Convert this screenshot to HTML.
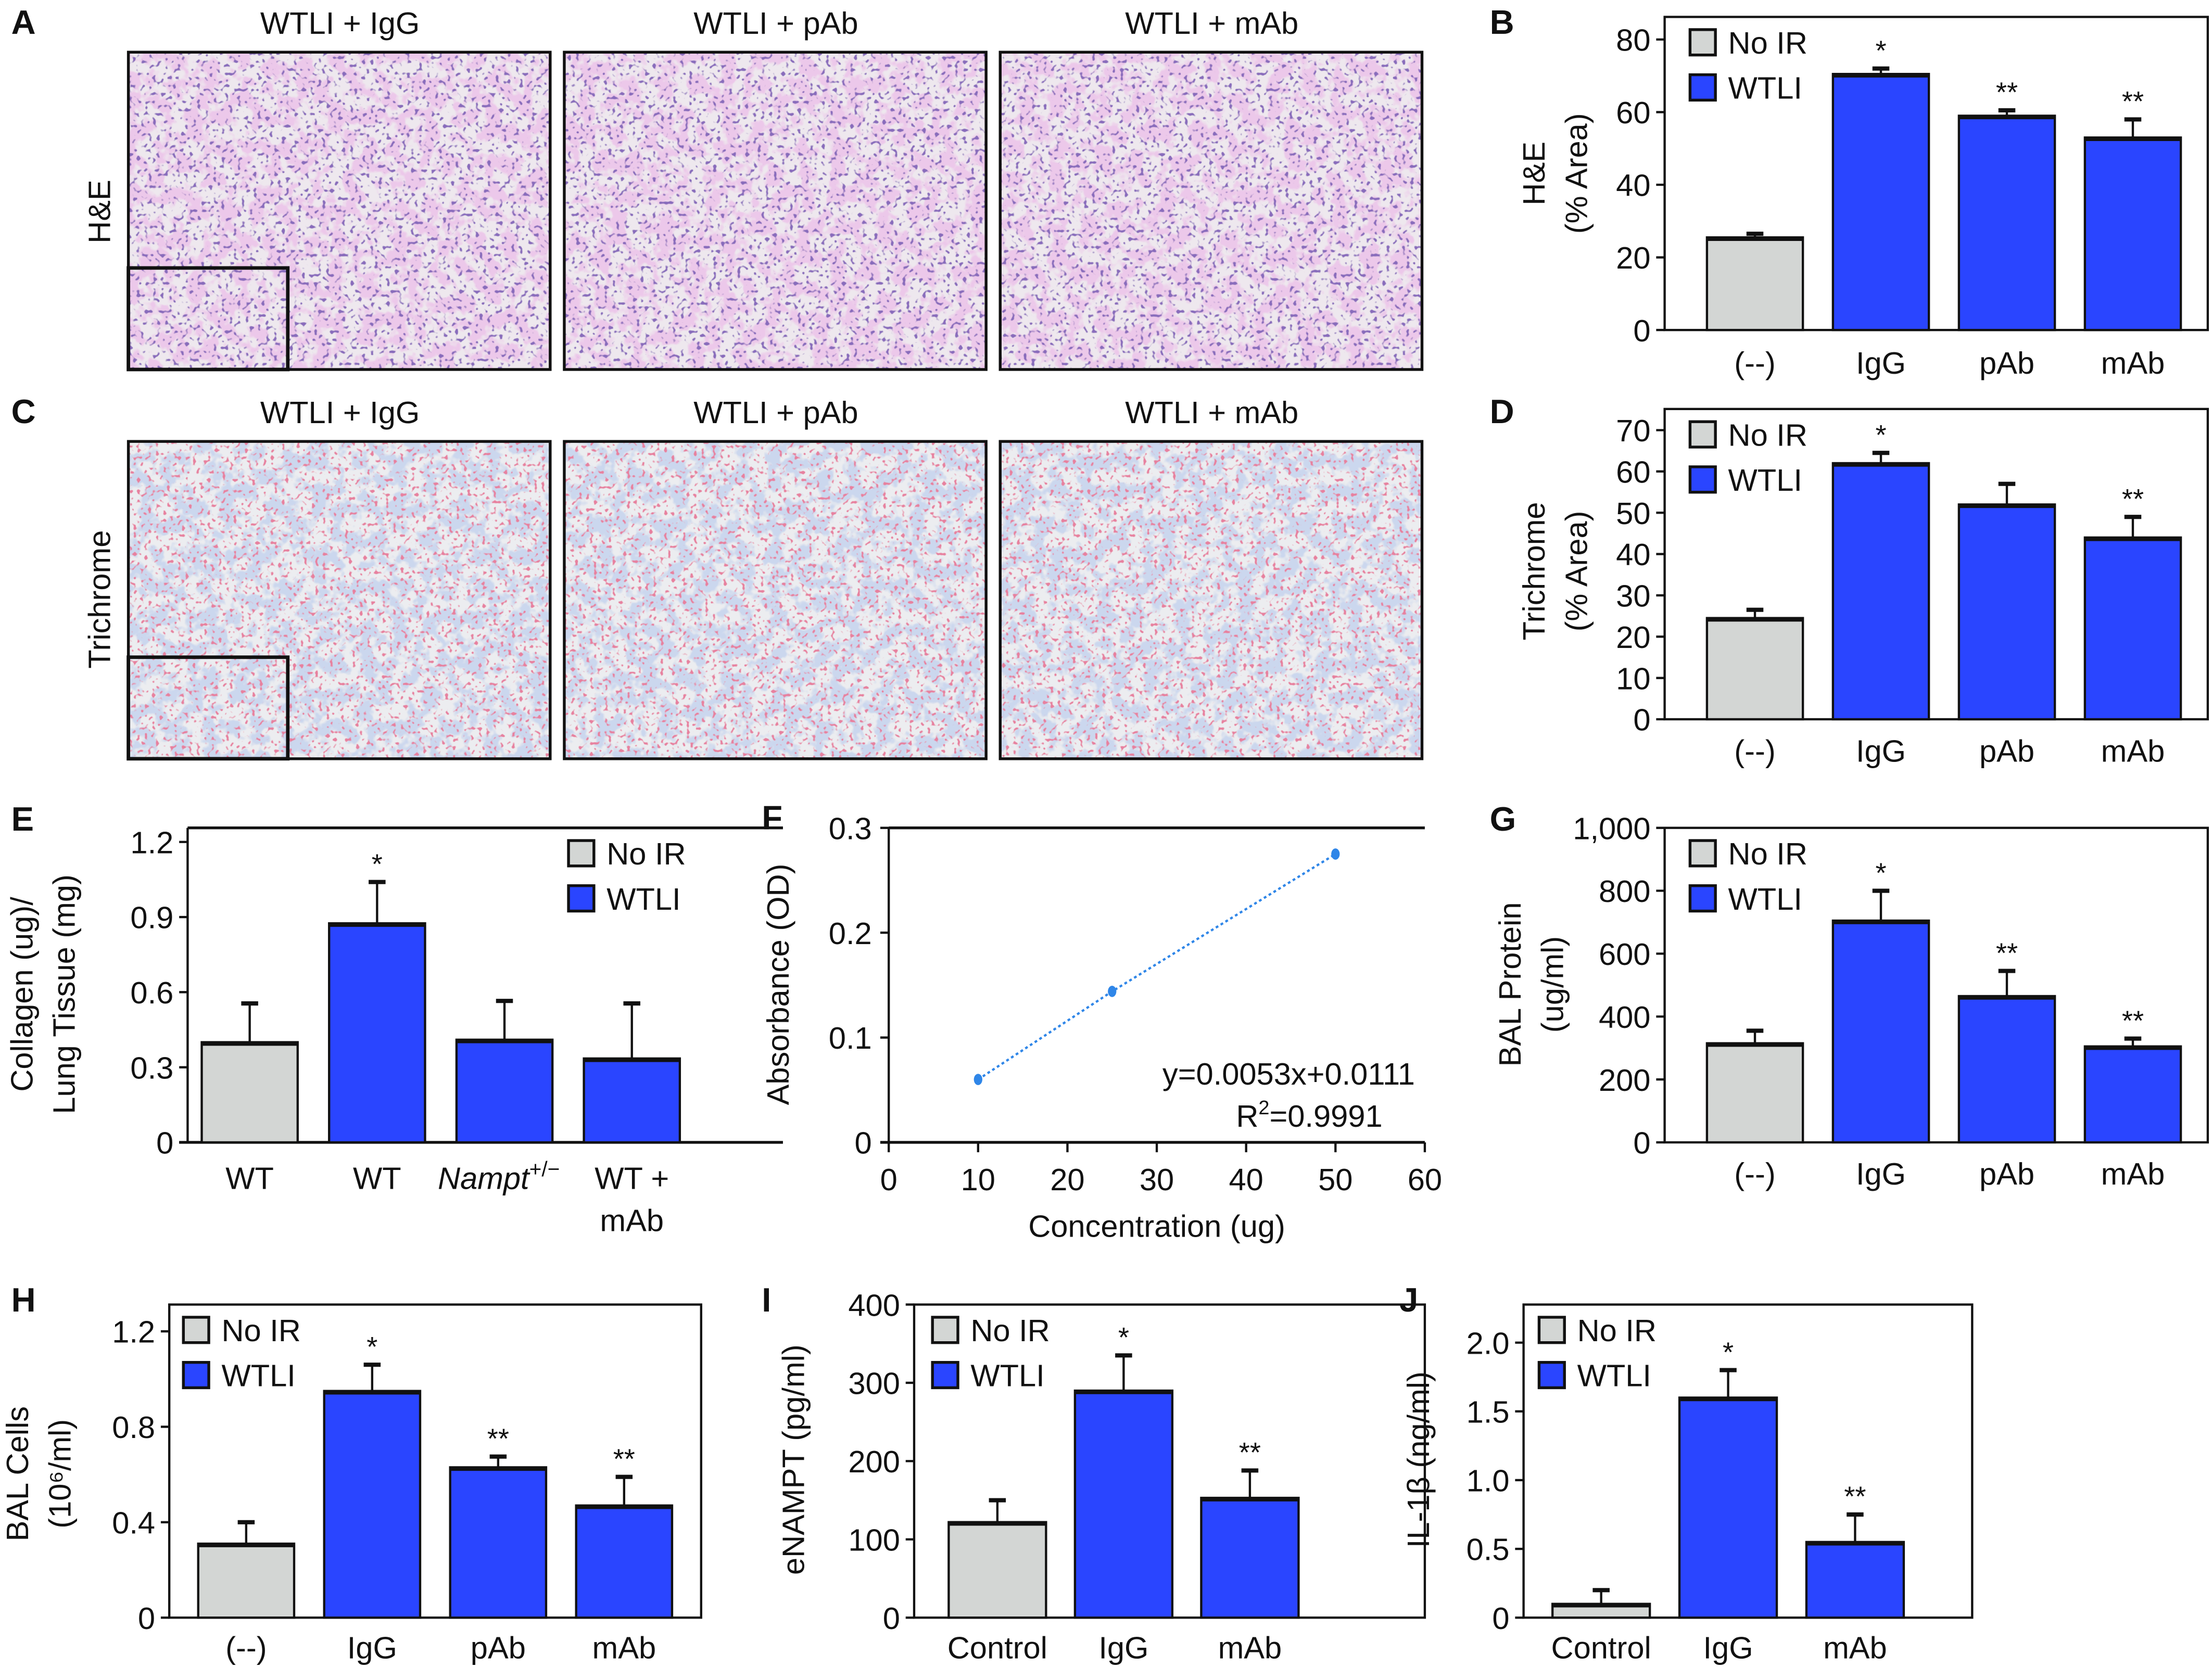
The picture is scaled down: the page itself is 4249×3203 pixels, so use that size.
<!DOCTYPE html>
<html><head><meta charset="utf-8"><style>
html,body{margin:0;padding:0;background:#fff;}
svg{display:block;font-family:"Liberation Sans",Arial,sans-serif;}
</style></head><body>
<svg id="fig" xmlns="http://www.w3.org/2000/svg" width="4249" height="3203" viewBox="0 0 1568 1182">
<defs>
<filter id="he" x="0" y="0" width="1" height="1" filterUnits="objectBoundingBox">
  <feFlood flood-color="#eee8ee" result="bg"/>
  <feTurbulence type="fractalNoise" baseFrequency="0.09" numOctaves="3" seed="3" result="n1"/>
  <feColorMatrix in="n1" type="matrix" values="0 0 0 0 0.84  0 0 0 0 0.58  0 0 0 0 0.82  7 0 0 0 -3.0" result="pink"/>
  <feTurbulence type="fractalNoise" baseFrequency="0.35" numOctaves="1" seed="9" result="n2"/>
  <feColorMatrix in="n2" type="matrix" values="0 0 0 0 0.25  0 0 0 0 0.15  0 0 0 0 0.5  0 9 0 0 -5.2" result="nuc"/>
  <feMerge><feMergeNode in="bg"/><feMergeNode in="pink"/><feMergeNode in="nuc"/></feMerge>
</filter>
<filter id="tri" x="0" y="0" width="1" height="1" filterUnits="objectBoundingBox">
  <feFlood flood-color="#ecedf0" result="bg"/>
  <feTurbulence type="fractalNoise" baseFrequency="0.09" numOctaves="3" seed="5" result="n1"/>
  <feColorMatrix in="n1" type="matrix" values="0 0 0 0 0.6  0 0 0 0 0.68  0 0 0 0 0.85  7 0 0 0 -3.0" result="blue"/>
  <feTurbulence type="fractalNoise" baseFrequency="0.38" numOctaves="1" seed="11" result="n2"/>
  <feColorMatrix in="n2" type="matrix" values="0 0 0 0 0.8  0 0 0 0 0.22  0 0 0 0 0.35  0 9 0 0 -5.2" result="red"/>
  <feMerge><feMergeNode in="bg"/><feMergeNode in="blue"/><feMergeNode in="red"/></feMerge>
</filter>
</defs>
</svg>
<script>
// ---- data ----
const bCats=['(--)','IgG','pAb','mAb'];
const bVals=[25.5,70.5,59,53];
const bErrs=[1,1.5,1.5,5];
const bStars=['','*','**','**'];
const bTicks=[0,20,40,60,80];

const dCats=['(--)','IgG','pAb','mAb'];
const dVals=[24.5,62,52,44];
const dErrs=[2,2.5,5,5];
const dStars=['','*','','**'];
const dTicks=[0,10,20,30,40,50,60,70];

const eCats=['WT','WT','Nampt','WT +'];
const eVals=[0.40,0.875,0.41,0.335];
const eErrs=[0.155,0.165,0.155,0.22];
const eStars=['','*','',''];
const eTicks=[0,0.3,0.6,0.9,1.2];
const eTickLabels=['0','0.3','0.6','0.9','1.2'];

const fX=[10,25,50];
const fY=[0.06,0.144,0.275];
const fXTicks=[0,10,20,30,40,50,60];
const fYTicks=[0,0.1,0.2,0.3];

const gCats=['(--)','IgG','pAb','mAb'];
const gVals=[315,705,465,305];
const gErrs=[40,95,80,25];
const gStars=['','*','**','**'];
const gTicks=[0,200,400,600,800,1000];
const gTickLabels=['0','200','400','600','800','1,000'];

const hCats=['(--)','IgG','pAb','mAb'];
const hVals=[0.31,0.95,0.63,0.47];
const hErrs=[0.09,0.11,0.045,0.12];
const hStars=['','*','**','**'];
const hTicks=[0,0.4,0.8,1.2];
const hTickLabels=['0','0.4','0.8','1.2'];

const iCats=['Control','IgG','mAb'];
const iVals=[122,290,153];
const iErrs=[28,45,35];
const iStars=['','*','**'];
const iTicks=[0,100,200,300,400];

const jCats=['Control','IgG','mAb'];
const jVals=[0.1,1.6,0.55];
const jErrs=[0.1,0.2,0.2];
const jStars=['','*','**'];
const jTicks=[0,0.5,1.0,1.5,2.0];
const jTickLabels=['0','0.5','1.0','1.5','2.0'];

const NS='http://www.w3.org/2000/svg';
const svg=document.getElementById('fig');
function mk(tag,attrs,parent){const e=document.createElementNS(NS,tag);for(const k in attrs)e.setAttribute(k,attrs[k]);(parent||svg).appendChild(e);return e;}
function txt(x,y,s,size,anchor,parent,extra){const t=mk('text',Object.assign({x:x,y:y,'font-size':size,'text-anchor':anchor||'middle',fill:'#111'},extra||{}),parent);t.textContent=s;return t;}

// panel letters
[['A',8,24],['B',1056,24],['C',8,300],['D',1056,300],['E',8,589],['F',540,588],['G',1056,589],['H',8,930],['I',540,930],['J',992,930]].forEach(p=>{
  const t=txt(p[1],p[2],p[0],24,'start',svg,{'font-weight':'bold'});
  
  
});

// micrographs
const micTitles=['WTLI + IgG','WTLI + pAb','WTLI + mAb'];
const micX=[91,400,709];
[[37,'he','H&E',150],[313,'tri','Trichrome',425]].forEach((row,ri)=>{
  const side=txt(78,row[3],row[2],22,'middle',svg,{transform:'rotate(-90 78 '+row[3]+')'});
  
  
  micX.forEach((x,i)=>{
    const t=txt(x+150,row[0]-13,micTitles[i],22);
    
    
    const g=mk('g',{});
    
    
    mk('rect',{x:x,y:row[0],width:299,height:225,filter:'url(#'+row[1]+')'},g);
    mk('rect',{x:x,y:row[0],width:299,height:225,fill:'none',stroke:'#111','stroke-width':2},g);
    if(i===0){
      const ins=mk('rect',{x:x,y:row[0]+153,width:113,height:72,fill:'none',stroke:'#111','stroke-width':2.5},g);
      
      
    }
  });
});

function barPanel(p){
  const g=mk('g',{});
  
  
  const Y=v=>p.y1+(v-p.ymin)*(p.yAt-p.y1)/(p.ymax-p.ymin);
  const X=i=>p.first+i*p.step;
  if(p.box){
    const fr=mk('rect',{x:p.x0,y:p.yTop,width:p.x1-p.x0,height:p.y1-p.yTop,fill:'none',stroke:'#111','stroke-width':1.6},g);
    
    
  } else {
    mk('line',{x1:p.x0,y1:p.yTop,x2:p.x1,y2:p.yTop,stroke:'#111','stroke-width':2},g);
    mk('line',{x1:p.x0,y1:p.yTop,x2:p.x0,y2:p.y1,stroke:'#111','stroke-width':1.6},g);
    mk('line',{x1:p.x0-6,y1:p.y1,x2:p.x1,y2:p.y1,stroke:'#111','stroke-width':2},g);
  }
  p.ticks.forEach((t,k)=>{
    const y=Y(t);
    mk('line',{x1:p.x0-6,y1:y,x2:p.x0,y2:y,stroke:'#111','stroke-width':1.6},g);
    const tl=txt(p.x0-10,y+8,p.tickLabels?p.tickLabels[k]:String(t),22,'end',g);
    
    
  });
  p.vals.forEach((v,i)=>{
    const cx=X(i),w=p.bw;
    const col=(i===0&&p.firstGray)?'#d3d6d4':'#2a45ff';
    const top=Y(v),etop=Y(v+p.errs[i]);
    const el=mk('line',{x1:cx,y1:top,x2:cx,y2:etop,stroke:'#111','stroke-width':1.6},g);
    
    
    const cap=mk('line',{x1:cx-6,y1:etop,x2:cx+6,y2:etop,stroke:'#111','stroke-width':3},g);
    
    
    const b=mk('rect',{x:cx-w/2,y:top,width:w,height:p.y1-top,fill:col,stroke:'#111','stroke-width':1.6},g);
    
    
    mk('line',{x1:cx-w/2,y1:top+1,x2:cx+w/2,y2:top+1,stroke:'#111','stroke-width':3},g);
    if(p.stars[i]){
      const s=txt(cx,etop-6,p.stars[i],20,'middle',g);
      
      
    }
    if(p.special==='e'&&i===2){
      const t=mk('text',{x:cx-4,y:p.labelY,'font-size':22,'text-anchor':'middle',fill:'#111'},g);
      
      
      const a=mk('tspan',{'font-style':'italic'},t);a.textContent='Nampt';
      const b2=mk('tspan',{'font-size':15,dy:-9},t);b2.textContent='+/\u2212';
    } else {
      const t=txt(cx,p.labelY,p.cats[i],22,'middle',g);
      
      
      if(p.special==='e'&&i===3){
        const t2=txt(cx,p.labelY+30,'mAb',22,'middle',g);
        
        
      }
    }
  });
  if(p.legend){
    [['No IR','#d3d6d4'],['WTLI','#2a45ff']].forEach((l,k)=>{
      const ly=p.legend[1]+k*32;
      const r=mk('rect',{x:p.legend[0],y:ly,width:18,height:18,fill:l[1],stroke:'#111','stroke-width':2},g);
      
      
      const t=txt(p.legend[0]+27,ly+17,l[0],22,'start',g);
      
      
    });
  }
  p.title.forEach((s,k)=>{
    const x=p.titleX+k*30;
    const t=txt(x,p.titleY,s,22,'middle',g,{transform:'rotate(-90 '+x+' '+p.titleY+')'});
    
    
  });
}

barPanel({name:'panel-b-he-chart',box:true,x0:1180,x1:1565,yTop:12,y1:234,ymin:0,ymax:80,yAt:28,ticks:bTicks,cats:bCats,vals:bVals,errs:bErrs,stars:bStars,first:1244,step:89.3,bw:68,firstGray:true,labelY:265,legend:[1198,21],title:['H&E','(% Area)'],titleX:1095,titleY:123});
barPanel({name:'panel-d-trichrome-chart',box:true,x0:1180,x1:1565,yTop:290,y1:510,ymin:0,ymax:70,yAt:305,ticks:dTicks,cats:dCats,vals:dVals,errs:dErrs,stars:dStars,first:1244,step:89.3,bw:68,firstGray:true,labelY:540,legend:[1198,299],title:['Trichrome','(% Area)'],titleX:1095,titleY:405});
barPanel({name:'panel-e-collagen-chart',box:false,x0:133,x1:555,yTop:587,y1:810,ymin:0,ymax:1.2,yAt:597,ticks:eTicks,tickLabels:eTickLabels,cats:eCats,vals:eVals,errs:eErrs,stars:eStars,first:177,step:90.3,bw:68,firstGray:true,labelY:843,legend:[403,596],title:['Collagen (ug)/','Lung Tissue (mg)'],titleX:23,titleY:705,special:'e'});
barPanel({name:'panel-g-bal-protein-chart',box:true,x0:1180,x1:1565,yTop:587,y1:810,ymin:0,ymax:1000,yAt:587,ticks:gTicks,tickLabels:gTickLabels,cats:gCats,vals:gVals,errs:gErrs,stars:gStars,first:1244,step:89.3,bw:68,firstGray:true,labelY:840,legend:[1198,596],title:['BAL Protein','(ug/ml)'],titleX:1078,titleY:698});
barPanel({name:'panel-h-bal-cells-chart',box:true,x0:120,x1:497,yTop:925,y1:1147,ymin:0,ymax:1.2,yAt:944,ticks:hTicks,tickLabels:hTickLabels,cats:hCats,vals:hVals,errs:hErrs,stars:hStars,first:174.5,step:89.3,bw:68,firstGray:true,labelY:1176,legend:[130,934],title:['BAL Cells','(10\u2076/ml)'],titleX:20,titleY:1045});
barPanel({name:'panel-i-enampt-chart',box:true,x0:648,x1:1010,yTop:925,y1:1147,ymin:0,ymax:400,yAt:925,ticks:iTicks,cats:iCats,vals:iVals,errs:iErrs,stars:iStars,first:707,step:89.5,bw:69,firstGray:true,labelY:1176,legend:[661,934],title:['eNAMPT (pg/ml)'],titleX:570,titleY:1035});
barPanel({name:'panel-j-il1b-chart',box:true,x0:1080,x1:1398,yTop:925,y1:1147,ymin:0,ymax:2.0,yAt:952,ticks:jTicks,tickLabels:jTickLabels,cats:jCats,vals:jVals,errs:jErrs,stars:jStars,first:1135,step:90,bw:69,firstGray:true,labelY:1176,legend:[1091,934],title:['IL-1\u03b2 (ng/ml)'],titleX:1013,titleY:1035});

// panel F scatter
(function(){
  const g=mk('g',{});
  
  
  const x0=630,x1=1010,y0=587,y1=810;
  const X=v=>x0+v/60*(x1-x0), Y=v=>y1-v/0.3*(y1-y0);
  mk('line',{x1:x0,y1:y0,x2:x1,y2:y0,stroke:'#111','stroke-width':2},g);
  mk('line',{x1:x0,y1:y0,x2:x0,y2:y1,stroke:'#111','stroke-width':1.6},g);
  mk('line',{x1:x0-6,y1:y1,x2:x1,y2:y1,stroke:'#111','stroke-width':2},g);
  fYTicks.forEach(t=>{
    mk('line',{x1:x0-6,y1:Y(t),x2:x0,y2:Y(t),stroke:'#111','stroke-width':1.6},g);
    const l=txt(x0-12,Y(t)+8,String(t),22,'end',g);
    
    
  });
  fXTicks.forEach(t=>{
    mk('line',{x1:X(t),y1:y1,x2:X(t),y2:y1+7,stroke:'#111','stroke-width':1.6},g);
    const l=txt(X(t),y1+34,String(t),22,'middle',g);
    
    
  });
  const pts=fX.map((v,i)=>X(v)+','+Y(fY[i])).join(' ');
  const ln=mk('polyline',{points:pts,fill:'none',stroke:'#2f86e8','stroke-width':1.6,'stroke-dasharray':'2 2'},g);
  
  
  fX.forEach((v,i)=>{
    const c=mk('ellipse',{cx:X(v),cy:Y(fY[i]),rx:3,ry:4,fill:'#2f86e8'},g);
    
    
  });
  const eq=txt(1003,769,'y=0.0053x+0.0111',22,'end',g);
  
  
  const r=mk('text',{x:980,y:799,'font-size':22,'text-anchor':'end',fill:'#111'},g);
  
  
  const a=mk('tspan',{},r);a.textContent='R';
  const b=mk('tspan',{'font-size':14,dy:-9},r);b.textContent='2';
  const c=mk('tspan',{dy:9},r);c.textContent='=0.9991';
  const xt=txt(820,877,'Concentration (ug)',22,'middle',g);
  
  
  const yt=txt(559,698,'Absorbance (OD)',22,'middle',g,{transform:'rotate(-90 559 698)'});
  
  
})();
</script>
</body></html>
